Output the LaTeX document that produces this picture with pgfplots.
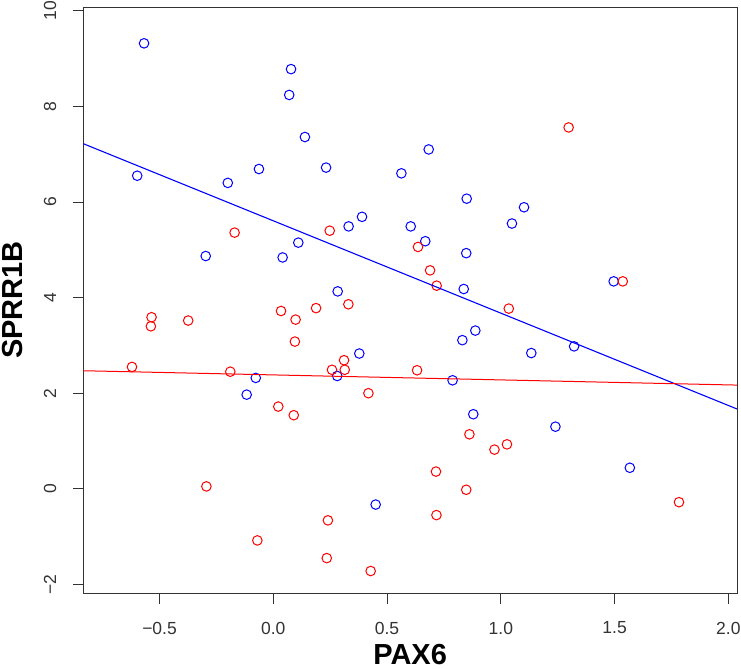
\documentclass[border=0pt]{standalone}
\usepackage{pgfplots}
\pgfplotsset{compat=1.18}
\usepackage{fontspec}
\setmainfont{Liberation Sans}
\begin{document}
\begin{tikzpicture}
\begin{axis}[
  scale only axis,
  width=653.7bp, height=586bp,
  xmin=-0.835, xmax=2.038, ymin=-2.18, ymax=10.08,
  axis line style={black!80, line width=0.9bp},
  tick style={black!80, line width=0.9bp},
  tick align=outside, major tick length=10.5bp,
  xtick pos=bottom, ytick pos=left,
  xtick={-0.5,0,0.5,1,1.5,2},
  ytick={-2,0,2,4,6,8,10},
  xticklabels={}, yticklabels={},
  every axis x label/.style={at={(axis description cs:0.5,0)}, anchor=base, yshift=-71.5bp, font=\fontsize{29bp}{29bp}\selectfont\bfseries},
  every axis y label/.style={at={(axis description cs:0,0.5)}, xshift=-71bp, rotate=90, anchor=center, font=\fontsize{29bp}{29bp}\selectfont\bfseries},
  xlabel={PAX6}, ylabel={SPRR1B},
  clip mode=individual,
]
\addplot[only marks, mark=o, mark size=4.8bp, blue, mark options={line width=1bp}] coordinates {
(-0.568,9.32) (0.078,8.78) (0.070,8.24) (0.139,7.36) (-0.598,6.55) (-0.200,6.40)
(-0.063,6.69) (0.232,6.72) (-0.297,4.87) (0.041,4.84) (0.110,5.15) (0.331,5.49)
(0.390,5.69) (0.283,4.13) (0.683,7.10) (0.563,6.60) (0.850,6.07) (1.102,5.89)
(1.049,5.55) (0.604,5.49) (0.668,5.18) (0.848,4.93) (0.837,4.18) (1.496,4.34)
(0.378,2.83) (-0.077,2.32) (-0.117,1.97) (0.281,2.36) (0.450,-0.33) (0.888,3.31)
(0.831,3.11) (1.134,2.84) (1.322,2.98) (0.788,2.27) (0.879,1.56) (1.240,1.30)
(1.567,0.44)
};
\addplot[only marks, mark=o, mark size=4.8bp, red, mark options={line width=1bp}] coordinates {
(-0.170,5.36) (0.248,5.40) (0.330,3.86) (0.188,3.78) (0.034,3.72) (1.298,7.56)
(0.636,5.06) (0.689,4.57) (0.718,4.25) (1.035,3.77) (1.536,4.34) (-0.535,3.59)
(-0.538,3.40) (-0.374,3.52) (0.098,3.54) (0.095,3.08) (-0.621,2.55) (-0.189,2.45)
(0.311,2.69) (0.258,2.49) (0.314,2.49) (0.418,2.00) (0.022,1.72) (0.090,1.54)
(-0.294,0.05) (0.240,-0.66) (-0.070,-1.08) (0.235,-1.45) (0.428,-1.72) (0.632,2.48)
(0.862,1.14) (1.027,0.93) (0.972,0.82) (0.715,0.36) (0.848,-0.02) (1.783,-0.28)
(0.717,-0.55)
};
\addplot[blue, line width=1.1bp] coordinates {(-0.835,7.22) (2.038,1.67)};
\addplot[red, line width=1bp] coordinates {(-0.835,2.47) (2.038,2.17)};
% tick labels
\foreach \v/\t in {-0.5/−0.5, 0/0.0, 0.5/0.5, 1/1.0, 1.5/1.5, 2/2.0} {
  \edef\temp{\noexpand\node[anchor=center, text=black!80, font=\noexpand\fontsize{17.5bp}{17.5bp}\noexpand\selectfont] at ([yshift=-35bp]axis cs:\v,-2.18) {\t};}
  \temp
}
\foreach \v/\t in {-2/−2, 0/0, 2/2, 4/4, 6/6, 8/8, 10/10} {
  \edef\temp{\noexpand\node[anchor=center, rotate=90, text=black!80, font=\noexpand\fontsize{17.5bp}{17.5bp}\noexpand\selectfont] at ([xshift=-33.3bp]axis cs:-0.835,\v) {\t};}
  \temp
}
\end{axis}
\pgfresetboundingbox
\path (current axis.south west) ++(-83.3bp,-76bp) coordinate (bl);
\path (current axis.north east) ++(4bp,7bp) coordinate (tr);
\path[use as bounding box] (bl) rectangle (tr);
\end{tikzpicture}
\end{document}
